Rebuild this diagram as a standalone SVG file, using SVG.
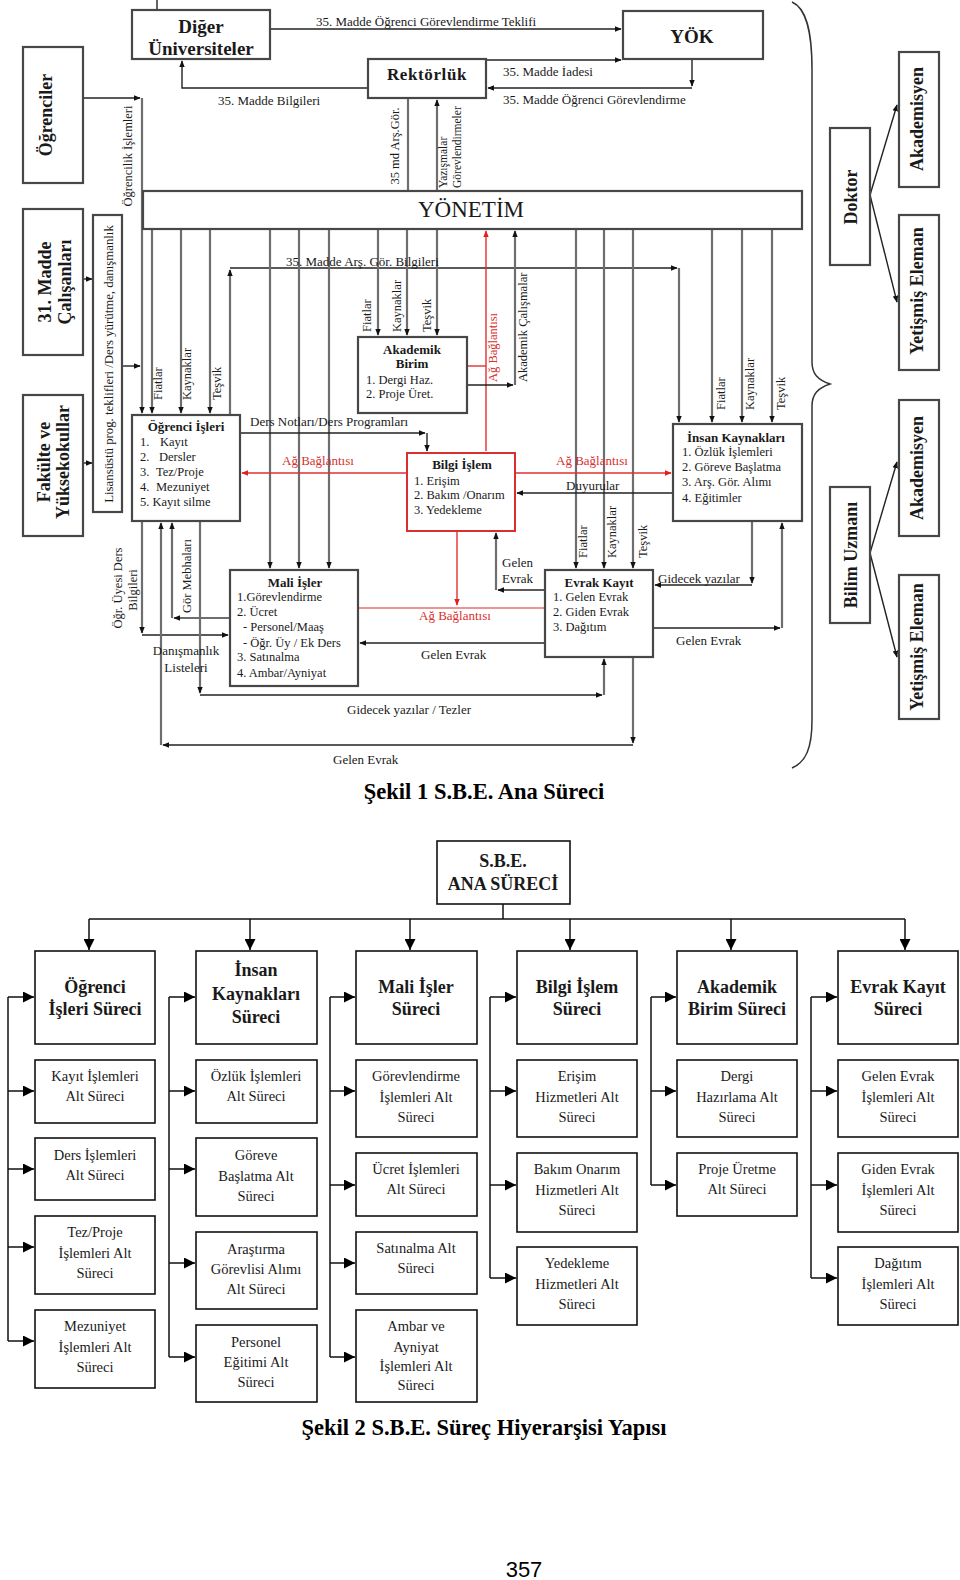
<svg xmlns="http://www.w3.org/2000/svg" width="960" height="1580" viewBox="0 0 960 1580">
<style>
text{font-family:"Liberation Serif","Times New Roman",serif;fill:#1a1a1a}
.bx{fill:#fff;stroke:#474747;stroke-width:2.2}
.bxr{fill:#fff;stroke:#d83030;stroke-width:2}
.t{font-size:12.5px}
.tb{font-size:13px;font-weight:bold}
.lb{font-size:13px}
.rl{font-size:12.5px}
.rs{font-size:11.5px}
.red{fill:#d83030}
.big{font-size:18px;font-weight:bold}
.g{fill:none;stroke:#6e6e6e;stroke-width:2.2}
.k{fill:none;stroke:#222;stroke-width:1.4}
.r{fill:none;stroke:#e03030;stroke-width:1.4}
.bx2{fill:#fff;stroke:#111;stroke-width:1.6}
.h2{font-size:18px;font-weight:bold}
.s2{font-size:14.5px}
.c2{fill:none;stroke:#111;stroke-width:1.5}
.cap{font-size:22.5px;font-weight:bold;fill:#000}
.mid{text-anchor:middle}
</style>
<defs>
<marker id="a" viewBox="0 0 10 10" refX="9" refY="5" markerWidth="7" markerHeight="7" orient="auto" markerUnits="userSpaceOnUse"><path d="M0,1 L10,5 L0,9 z" fill="#111"/></marker>
<marker id="ar" viewBox="0 0 10 10" refX="9" refY="5" markerWidth="7" markerHeight="7" orient="auto" markerUnits="userSpaceOnUse"><path d="M0,1 L10,5 L0,9 z" fill="#e02020"/></marker>
<marker id="b" viewBox="0 0 10 10" refX="10" refY="5" markerWidth="11" markerHeight="11" orient="auto" markerUnits="userSpaceOnUse"><path d="M0,0 L10,5 L0,10 z" fill="#000"/></marker>
</defs>
<rect width="960" height="1580" fill="#fff"/>

<!-- ============ FIGURE 1 ============ -->
<g id="connectors1">
  <path class="k" d="M157,0 V10"/>
  <path class="k" d="M270,29 H621" marker-end="url(#a)"/>
  <path class="k" d="M368,88 H182 V61" marker-end="url(#a)"/>
  <path class="k" d="M487,60 H621" marker-end="url(#a)"/>
  <path class="k" d="M692,59 V86" marker-end="url(#a)"/>
  <path class="k" d="M692,88 H488" marker-end="url(#a)"/>
  <path class="g" d="M408,98 V191"/>
  <path class="g" d="M437,191 V100" marker-end="url(#a)"/>
  <path class="k" d="M83,98 H140" marker-end="url(#a)"/>
  <path class="g" d="M142,98 V413" marker-end="url(#a)"/>
  <path class="k" d="M83,279 H92" marker-end="url(#a)"/>
  <path class="k" d="M83,463 H92" marker-end="url(#a)"/>
  <path class="k" d="M122,366 H140" marker-end="url(#a)"/>
  <path class="g" d="M152,229 V413" marker-end="url(#a)"/>
  <path class="g" d="M181,229 V413" marker-end="url(#a)"/>
  <path class="g" d="M210,229 V413" marker-end="url(#a)"/>
  <path class="g" d="M230,415 V270" marker-end="url(#a)"/>
  <path class="k" d="M230,268 H677" marker-end="url(#a)"/>
  <path class="g" d="M679,268 V422" marker-end="url(#a)"/>
  <path class="g" d="M270,229 V568" marker-end="url(#a)"/>
  <path class="g" d="M299,229 V568" marker-end="url(#a)"/>
  <path class="g" d="M329,229 V568" marker-end="url(#a)"/>
  <path class="g" d="M378,229 V335" marker-end="url(#a)"/>
  <path class="g" d="M407,229 V335" marker-end="url(#a)"/>
  <path class="g" d="M437,229 V335" marker-end="url(#a)"/>
  <path class="r" d="M486,451 V231" marker-end="url(#ar)"/>
  <path class="r" d="M467,366 H486"/>
  <path class="k" d="M467,385 H513" marker-end="url(#a)"/>
  <path class="g" d="M515,385 V231" marker-end="url(#a)"/>
  <path class="g" d="M576,229 V568" marker-end="url(#a)"/>
  <path class="g" d="M604,229 V568" marker-end="url(#a)"/>
  <path class="g" d="M633,229 V568" marker-end="url(#a)"/>
  <path class="g" d="M712,229 V422" marker-end="url(#a)"/>
  <path class="g" d="M742,229 V422" marker-end="url(#a)"/>
  <path class="g" d="M772,229 V422" marker-end="url(#a)"/>
  <path class="k" d="M240,433 H425" marker-end="url(#a)"/>
  <path class="k" d="M427,433 V451" marker-end="url(#a)"/>
  <path class="r" d="M407,473 H242" marker-end="url(#ar)"/>
  <path class="r" d="M515,473 H671" marker-end="url(#ar)"/>
  <path class="k" d="M673,493 H517" marker-end="url(#a)"/>
  <path class="k" d="M545,590 H498" marker-end="url(#a)"/>
  <path class="g" d="M496,590 V533" marker-end="url(#a)"/>
  <path class="g" d="M752,521 V583" marker-end="url(#a)"/>
  <path class="k" d="M752,585 H655" marker-end="url(#a)"/>
  <path class="k" d="M653,628 H780" marker-end="url(#a)"/>
  <path class="g" d="M782,628 V523" marker-end="url(#a)"/>
  <path class="r" d="M457,531 V605" marker-end="url(#ar)"/>
  <path class="r" d="M358,608 H545" stroke-opacity="0.7"/>
  <path class="k" d="M545,643 H360" marker-end="url(#a)"/>
  <path class="g" d="M142,521 V633" marker-end="url(#a)"/>
  <path class="k" d="M142,635 H228" marker-end="url(#a)"/>
  <path class="g" d="M633,657 V743" marker-end="url(#a)"/>
  <path class="k" d="M633,745 H163" marker-end="url(#a)"/>
  <path class="g" d="M161,745 V523" marker-end="url(#a)"/>
  <path class="g" d="M230,618 H174" marker-end="url(#a)"/>
  <path class="g" d="M172,618 V523" marker-end="url(#a)"/>
  <path class="g" d="M200,521 V693" marker-end="url(#a)"/>
  <path class="k" d="M200,695 H602" marker-end="url(#a)"/>
  <path class="g" d="M604,695 V659" marker-end="url(#a)"/>
  <path class="k" d="M870,195 L897,105" marker-end="url(#a)"/>
  <path class="k" d="M870,195 L897,302" marker-end="url(#a)"/>
  <path class="k" d="M870,553 L897,462" marker-end="url(#a)"/>
  <path class="k" d="M870,553 L897,657" marker-end="url(#a)"/>
  <path d="M792,2 C806,8 812,30 812,70 L812,362 C812,374 818,380 830,384 C818,388 812,394 812,406 L812,720 C812,748 806,762 792,768" fill="none" stroke="#333" stroke-width="1.5"/>
</g>

<g id="labels1">
  <text class="lb" x="316" y="26">35. Madde Öğrenci Görevlendirme Teklifi</text>
  <text class="lb" x="218" y="105">35.  Madde Bilgileri</text>
  <text class="lb" x="503" y="76">35.  Madde İadesi</text>
  <text class="lb" x="503" y="104">35.  Madde Öğrenci Görevlendirme</text>
  <text class="rl mid" transform="translate(399,146) rotate(-90)">35 md Arş.Gör.</text>
  <text class="rs" transform="translate(447,188) rotate(-90)">Yazışmalar</text>
  <text class="rs" transform="translate(461,188) rotate(-90)">Görevlendirmeler</text>
  <text class="rl mid" transform="translate(132,156) rotate(-90)">Öğrencilik İşlemleri</text>
  <text class="lb" x="286" y="266">35.  Madde Arş. Gör. Bilgileri</text>
  <text class="rl" transform="translate(162,400) rotate(-90)">Fiatlar</text>
  <text class="rl" transform="translate(191,400) rotate(-90)">Kaynaklar</text>
  <text class="rl" transform="translate(221,400) rotate(-90)">Teşvik</text>
  <text class="rl" transform="translate(371,332) rotate(-90)">Fiatlar</text>
  <text class="rl" transform="translate(401,332) rotate(-90)">Kaynaklar</text>
  <text class="rl" transform="translate(431,332) rotate(-90)">Teşvik</text>
  <text class="rl red" transform="translate(497,382) rotate(-90)">Ağ Bağlantısı</text>
  <text class="rl" transform="translate(527,382) rotate(-90)">Akademik Çalışmalar</text>
  <text class="rl" transform="translate(587,558) rotate(-90)">Fiatlar</text>
  <text class="rl" transform="translate(616,558) rotate(-90)">Kaynaklar</text>
  <text class="rl" transform="translate(647,558) rotate(-90)">Teşvik</text>
  <text class="rl" transform="translate(725,410) rotate(-90)">Fiatlar</text>
  <text class="rl" transform="translate(754,410) rotate(-90)">Kaynaklar</text>
  <text class="rl" transform="translate(785,410) rotate(-90)">Teşvik</text>
  <text class="lb" x="250" y="426">Ders Notları/Ders Programları</text>
  <text class="lb red" x="282" y="465">Ağ Bağlantısı</text>
  <text class="lb red" x="556" y="465">Ağ Bağlantısı</text>
  <text class="lb" x="566" y="490">Duyurular</text>
  <text class="lb" x="502" y="567">Gelen</text>
  <text class="lb" x="502" y="583">Evrak</text>
  <text class="lb" x="658" y="583">Gidecek yazılar</text>
  <text class="lb" x="676" y="645">Gelen Evrak</text>
  <text class="lb red" x="419" y="620">Ağ Bağlantısı</text>
  <text class="lb" x="421" y="659">Gelen Evrak</text>
  <text class="rl mid" transform="translate(122,588) rotate(-90)">Öğr. Üyesi Ders</text>
  <text class="rl mid" transform="translate(137,590) rotate(-90)">Bilgileri</text>
  <text class="rl mid" transform="translate(191,576) rotate(-90)">Gör Mebhaları</text>
  <text class="lb mid" x="186" y="655">Danışmanlık</text>
  <text class="lb mid" x="186" y="672">Listeleri</text>
  <text class="lb" x="347" y="714">Gidecek yazılar / Tezler</text>
  <text class="lb" x="333" y="764">Gelen Evrak</text>
</g>

<g id="n-diger"><rect class="bx" x="132" y="10" width="138" height="49"/>
  <text class="mid" x="201" y="33" style="font-size:19px;font-weight:bold">Diğer</text>
  <text class="mid" x="201" y="55" style="font-size:19px;font-weight:bold">Üniversiteler</text></g>
<g id="n-rektorluk"><rect class="bx" x="368" y="59" width="118" height="39"/>
  <text class="mid" x="427" y="80" style="font-size:17px;font-weight:bold;letter-spacing:0.6px">Rektörlük</text></g>
<g id="n-yok"><rect class="bx" x="623" y="11" width="140" height="48"/>
  <text class="mid" x="692" y="43" style="font-size:19px;font-weight:bold">YÖK</text></g>
<g id="n-yonetim"><rect class="bx" x="143" y="191" width="659" height="38"/>
  <text class="mid" x="471" y="217" style="font-size:23px">YÖNETİM</text></g>
<g id="n-ogrenciler"><rect class="bx" x="23" y="47" width="60" height="136"/>
  <text class="big mid" transform="translate(52,115) rotate(-90)">Öğrenciler</text></g>
<g id="n-31madde"><rect class="bx" x="23" y="209" width="60" height="146"/>
  <text class="big mid" transform="translate(51,282) rotate(-90)">31. Madde</text>
  <text class="big mid" transform="translate(71,282) rotate(-90)">Çalışanları</text></g>
<g id="n-fakulte"><rect class="bx" x="23" y="395" width="60" height="141"/>
  <text class="big mid" transform="translate(50,462) rotate(-90)">Fakülte ve</text>
  <text class="big mid" transform="translate(69,462) rotate(-90)">Yüksekokullar</text></g>
<g id="n-lisans"><rect class="bx" x="93" y="215" width="29" height="297"/>
  <text class="mid" style="font-size:12.8px" transform="translate(113,364) rotate(-90)">Lisansüstü prog. teklifleri /Ders yürütme, danışmanlık</text></g>
<g id="n-ogrenci-isleri"><rect class="bx" x="132" y="415" width="108" height="106"/>
  <text class="tb mid" x="186" y="431">Öğrenci İşleri</text>
  <text class="t" x="140" y="446">1.</text><text class="t" x="160" y="446">Kayıt</text>
  <text class="t" x="140" y="461">2.</text><text class="t" x="159" y="461">Dersler</text>
  <text class="t" x="140" y="476">3.</text><text class="t" x="156" y="476">Tez/Proje</text>
  <text class="t" x="140" y="491">4.</text><text class="t" x="156" y="491">Mezuniyet</text>
  <text class="t" x="140" y="506">5. Kayıt silme</text></g>
<g id="n-akademik"><rect class="bx" x="358" y="337" width="109" height="76"/>
  <text class="tb mid" x="412" y="354">Akademik</text>
  <text class="tb mid" x="412" y="368">Birim</text>
  <text class="t" x="366" y="384">1. Dergi Haz.</text>
  <text class="t" x="366" y="398">2. Proje Üret.</text></g>
<g id="n-bilgi"><rect class="bxr" x="407" y="453" width="108" height="78"/>
  <text class="tb mid" x="462" y="469">Bilgi İşlem</text>
  <text class="t" x="414" y="485">1. Erişim</text>
  <text class="t" x="414" y="499">2. Bakım /Onarım</text>
  <text class="t" x="414" y="514">3. Yedekleme</text></g>
<g id="n-insan"><rect class="bx" x="673" y="424" width="129" height="97"/>
  <text class="tb mid" x="736" y="442">İnsan Kaynakları</text>
  <text class="t" x="682" y="456">1. Özlük İşlemleri</text>
  <text class="t" x="682" y="471">2. Göreve Başlatma</text>
  <text class="t" x="682" y="486">3. Arş. Gör. Alımı</text>
  <text class="t" x="682" y="502">4. Eğitimler</text></g>
<g id="n-mali"><rect class="bx" x="230" y="570" width="128" height="116"/>
  <text class="tb mid" x="295" y="587">Mali İşler</text>
  <text class="t" x="237" y="601">1.Görevlendirme</text>
  <text class="t" x="237" y="616">2. Ücret</text>
  <text class="t" x="243" y="631">- Personel/Maaş</text>
  <text class="t" x="243" y="647">- Öğr. Üy / Ek Ders</text>
  <text class="t" x="237" y="661">3. Satınalma</text>
  <text class="t" x="237" y="677">4. Ambar/Ayniyat</text></g>
<g id="n-evrak"><rect class="bx" x="545" y="570" width="108" height="87"/>
  <text class="tb mid" x="599" y="587">Evrak Kayıt</text>
  <text class="t" x="553" y="601">1. Gelen Evrak</text>
  <text class="t" x="553" y="616">2. Giden Evrak</text>
  <text class="t" x="553" y="631">3. Dağıtım</text></g>
<g id="n-doktor"><rect class="bx" x="830" y="128" width="40" height="137"/>
  <text class="big mid" transform="translate(857,197) rotate(-90)">Doktor</text></g>
<g id="n-akademisyen1"><rect class="bx" x="899" y="52" width="40" height="135"/>
  <text class="big mid" transform="translate(923,119) rotate(-90)">Akademisyen</text></g>
<g id="n-yetismis1"><rect class="bx" x="899" y="215" width="40" height="155"/>
  <text class="big mid" transform="translate(923,291) rotate(-90)">Yetişmiş Eleman</text></g>
<g id="n-bilim"><rect class="bx" x="830" y="487" width="40" height="136"/>
  <text class="big mid" transform="translate(857,555) rotate(-90)">Bilim Uzmanı</text></g>
<g id="n-akademisyen2"><rect class="bx" x="899" y="400" width="40" height="136"/>
  <text class="big mid" transform="translate(923,468) rotate(-90)">Akademisyen</text></g>
<g id="n-yetismis2"><rect class="bx" x="899" y="575" width="40" height="144"/>
  <text class="big mid" transform="translate(923,647) rotate(-90)">Yetişmiş Eleman</text></g>

<text class="cap mid" x="484" y="799">Şekil 1 S.B.E. Ana Süreci</text>

<!-- ============ FIGURE 2 ============ -->
<g id="connectors2">
  <path class="c2" d="M503,904 V919"/>
  <path class="c2" d="M89,919 H905"/>
  <path class="c2" d="M89,919 V950" marker-end="url(#b)"/>
  <path class="c2" d="M250,919 V950" marker-end="url(#b)"/>
  <path class="c2" d="M410,919 V950" marker-end="url(#b)"/>
  <path class="c2" d="M570,919 V950" marker-end="url(#b)"/>
  <path class="c2" d="M731,919 V950" marker-end="url(#b)"/>
  <path class="c2" d="M905,919 V950" marker-end="url(#b)"/>
  <path class="c2" d="M8,997 V1341"/>
  <path class="c2" d="M8,997 H34" marker-end="url(#b)"/>
  <path class="c2" d="M8,1091 H34" marker-end="url(#b)"/>
  <path class="c2" d="M8,1169 H34" marker-end="url(#b)"/>
  <path class="c2" d="M8,1247 H34" marker-end="url(#b)"/>
  <path class="c2" d="M8,1341 H34" marker-end="url(#b)"/>
  <path class="c2" d="M169,997 V1357"/>
  <path class="c2" d="M169,997 H195" marker-end="url(#b)"/>
  <path class="c2" d="M169,1091 H195" marker-end="url(#b)"/>
  <path class="c2" d="M169,1169 H195" marker-end="url(#b)"/>
  <path class="c2" d="M169,1263 H195" marker-end="url(#b)"/>
  <path class="c2" d="M169,1357 H195" marker-end="url(#b)"/>
  <path class="c2" d="M330,997 V1357"/>
  <path class="c2" d="M330,997 H355" marker-end="url(#b)"/>
  <path class="c2" d="M330,1091 H355" marker-end="url(#b)"/>
  <path class="c2" d="M330,1185 H355" marker-end="url(#b)"/>
  <path class="c2" d="M330,1263 H355" marker-end="url(#b)"/>
  <path class="c2" d="M330,1357 H355" marker-end="url(#b)"/>
  <path class="c2" d="M490,997 V1278"/>
  <path class="c2" d="M490,997 H516" marker-end="url(#b)"/>
  <path class="c2" d="M490,1091 H516" marker-end="url(#b)"/>
  <path class="c2" d="M490,1185 H516" marker-end="url(#b)"/>
  <path class="c2" d="M490,1278 H516" marker-end="url(#b)"/>
  <path class="c2" d="M651,997 V1185"/>
  <path class="c2" d="M651,997 H676" marker-end="url(#b)"/>
  <path class="c2" d="M651,1091 H676" marker-end="url(#b)"/>
  <path class="c2" d="M651,1185 H676" marker-end="url(#b)"/>
  <path class="c2" d="M811,997 V1278"/>
  <path class="c2" d="M811,997 H837" marker-end="url(#b)"/>
  <path class="c2" d="M811,1091 H837" marker-end="url(#b)"/>
  <path class="c2" d="M811,1185 H837" marker-end="url(#b)"/>
  <path class="c2" d="M811,1278 H837" marker-end="url(#b)"/>
</g>

<g id="n-sbe"><rect class="bx2" x="437" y="841" width="133" height="63"/>
  <text class="h2 mid" x="503" y="867">S.B.E.</text>
  <text class="h2 mid" x="503" y="890">ANA SÜRECİ</text></g>

<g id="n-ogr-sureci"><rect class="bx2" x="35" y="951" width="120" height="93"/>
  <text class="h2 mid" x="95" y="993">Öğrenci</text>
  <text class="h2 mid" x="95" y="1015">İşleri Süreci</text></g>
<g id="n-kayit"><rect class="bx2" x="35" y="1060" width="120" height="63"/>
  <text class="s2 mid" x="95" y="1081">Kayıt İşlemleri</text>
  <text class="s2 mid" x="95" y="1101">Alt Süreci</text></g>
<g id="n-ders"><rect class="bx2" x="35" y="1138" width="120" height="62"/>
  <text class="s2 mid" x="95" y="1160">Ders İşlemleri</text>
  <text class="s2 mid" x="95" y="1180">Alt Süreci</text></g>
<g id="n-tez"><rect class="bx2" x="35" y="1216" width="120" height="78"/>
  <text class="s2 mid" x="95" y="1237">Tez/Proje</text>
  <text class="s2 mid" x="95" y="1258">İşlemleri Alt</text>
  <text class="s2 mid" x="95" y="1278">Süreci</text></g>
<g id="n-mezuniyet"><rect class="bx2" x="35" y="1310" width="120" height="78"/>
  <text class="s2 mid" x="95" y="1331">Mezuniyet</text>
  <text class="s2 mid" x="95" y="1352">İşlemleri Alt</text>
  <text class="s2 mid" x="95" y="1372">Süreci</text></g>

<g id="n-ik-sureci"><rect class="bx2" x="196" y="951" width="121" height="93"/>
  <text class="h2 mid" x="256" y="976">İnsan</text>
  <text class="h2 mid" x="256" y="1000">Kaynakları</text>
  <text class="h2 mid" x="256" y="1023">Süreci</text></g>
<g id="n-ozluk"><rect class="bx2" x="196" y="1060" width="121" height="63"/>
  <text class="s2 mid" x="256" y="1081">Özlük İşlemleri</text>
  <text class="s2 mid" x="256" y="1101">Alt Süreci</text></g>
<g id="n-goreve"><rect class="bx2" x="196" y="1138" width="121" height="78"/>
  <text class="s2 mid" x="256" y="1160">Göreve</text>
  <text class="s2 mid" x="256" y="1181">Başlatma Alt</text>
  <text class="s2 mid" x="256" y="1201">Süreci</text></g>
<g id="n-arastirma"><rect class="bx2" x="196" y="1232" width="121" height="77"/>
  <text class="s2 mid" x="256" y="1254">Araştırma</text>
  <text class="s2 mid" x="256" y="1274">Görevlisi Alımı</text>
  <text class="s2 mid" x="256" y="1294">Alt Süreci</text></g>
<g id="n-personel"><rect class="bx2" x="196" y="1325" width="121" height="77"/>
  <text class="s2 mid" x="256" y="1347">Personel</text>
  <text class="s2 mid" x="256" y="1367">Eğitimi Alt</text>
  <text class="s2 mid" x="256" y="1387">Süreci</text></g>

<g id="n-mali-sureci"><rect class="bx2" x="356" y="951" width="121" height="93"/>
  <text class="h2 mid" x="416" y="993">Mali İşler</text>
  <text class="h2 mid" x="416" y="1015">Süreci</text></g>
<g id="n-gorevlendirme"><rect class="bx2" x="356" y="1060" width="121" height="77"/>
  <text class="s2 mid" x="416" y="1081">Görevlendirme</text>
  <text class="s2 mid" x="416" y="1102">İşlemleri Alt</text>
  <text class="s2 mid" x="416" y="1122">Süreci</text></g>
<g id="n-ucret"><rect class="bx2" x="356" y="1153" width="121" height="63"/>
  <text class="s2 mid" x="416" y="1174">Ücret İşlemleri</text>
  <text class="s2 mid" x="416" y="1194">Alt Süreci</text></g>
<g id="n-satinalma"><rect class="bx2" x="356" y="1232" width="121" height="62"/>
  <text class="s2 mid" x="416" y="1253">Satınalma Alt</text>
  <text class="s2 mid" x="416" y="1273">Süreci</text></g>
<g id="n-ambar"><rect class="bx2" x="356" y="1310" width="121" height="92"/>
  <text class="s2 mid" x="416" y="1331">Ambar ve</text>
  <text class="s2 mid" x="416" y="1352">Ayniyat</text>
  <text class="s2 mid" x="416" y="1371">İşlemleri Alt</text>
  <text class="s2 mid" x="416" y="1390">Süreci</text></g>

<g id="n-bilgi-sureci"><rect class="bx2" x="517" y="951" width="120" height="93"/>
  <text class="h2 mid" x="577" y="993">Bilgi İşlem</text>
  <text class="h2 mid" x="577" y="1015">Süreci</text></g>
<g id="n-erisim"><rect class="bx2" x="517" y="1060" width="120" height="77"/>
  <text class="s2 mid" x="577" y="1081">Erişim</text>
  <text class="s2 mid" x="577" y="1102">Hizmetleri Alt</text>
  <text class="s2 mid" x="577" y="1122">Süreci</text></g>
<g id="n-bakim"><rect class="bx2" x="517" y="1153" width="120" height="79"/>
  <text class="s2 mid" x="577" y="1174">Bakım Onarım</text>
  <text class="s2 mid" x="577" y="1195">Hizmetleri Alt</text>
  <text class="s2 mid" x="577" y="1215">Süreci</text></g>
<g id="n-yedekleme"><rect class="bx2" x="517" y="1247" width="120" height="78"/>
  <text class="s2 mid" x="577" y="1268">Yedekleme</text>
  <text class="s2 mid" x="577" y="1289">Hizmetleri Alt</text>
  <text class="s2 mid" x="577" y="1309">Süreci</text></g>

<g id="n-akademik-sureci"><rect class="bx2" x="677" y="951" width="120" height="93"/>
  <text class="h2 mid" x="737" y="993">Akademik</text>
  <text class="h2 mid" x="737" y="1015">Birim Süreci</text></g>
<g id="n-dergi"><rect class="bx2" x="677" y="1060" width="120" height="77"/>
  <text class="s2 mid" x="737" y="1081">Dergi</text>
  <text class="s2 mid" x="737" y="1102">Hazırlama Alt</text>
  <text class="s2 mid" x="737" y="1122">Süreci</text></g>
<g id="n-proje"><rect class="bx2" x="677" y="1153" width="120" height="63"/>
  <text class="s2 mid" x="737" y="1174">Proje Üretme</text>
  <text class="s2 mid" x="737" y="1194">Alt Süreci</text></g>

<g id="n-evrak-sureci"><rect class="bx2" x="838" y="951" width="120" height="93"/>
  <text class="h2 mid" x="898" y="993">Evrak Kayıt</text>
  <text class="h2 mid" x="898" y="1015">Süreci</text></g>
<g id="n-gelen"><rect class="bx2" x="838" y="1060" width="120" height="77"/>
  <text class="s2 mid" x="898" y="1081">Gelen Evrak</text>
  <text class="s2 mid" x="898" y="1102">İşlemleri Alt</text>
  <text class="s2 mid" x="898" y="1122">Süreci</text></g>
<g id="n-giden"><rect class="bx2" x="838" y="1153" width="120" height="79"/>
  <text class="s2 mid" x="898" y="1174">Giden Evrak</text>
  <text class="s2 mid" x="898" y="1195">İşlemleri Alt</text>
  <text class="s2 mid" x="898" y="1215">Süreci</text></g>
<g id="n-dagitim"><rect class="bx2" x="838" y="1247" width="120" height="78"/>
  <text class="s2 mid" x="898" y="1268">Dağıtım</text>
  <text class="s2 mid" x="898" y="1289">İşlemleri Alt</text>
  <text class="s2 mid" x="898" y="1309">Süreci</text></g>

<text class="cap mid" x="484" y="1435">Şekil 2 S.B.E. Süreç Hiyerarşisi Yapısı</text>
<text x="524" y="1577" text-anchor="middle" style="font-family:'Liberation Sans',Arial,sans-serif;font-size:22px;fill:#000">357</text>
</svg>
